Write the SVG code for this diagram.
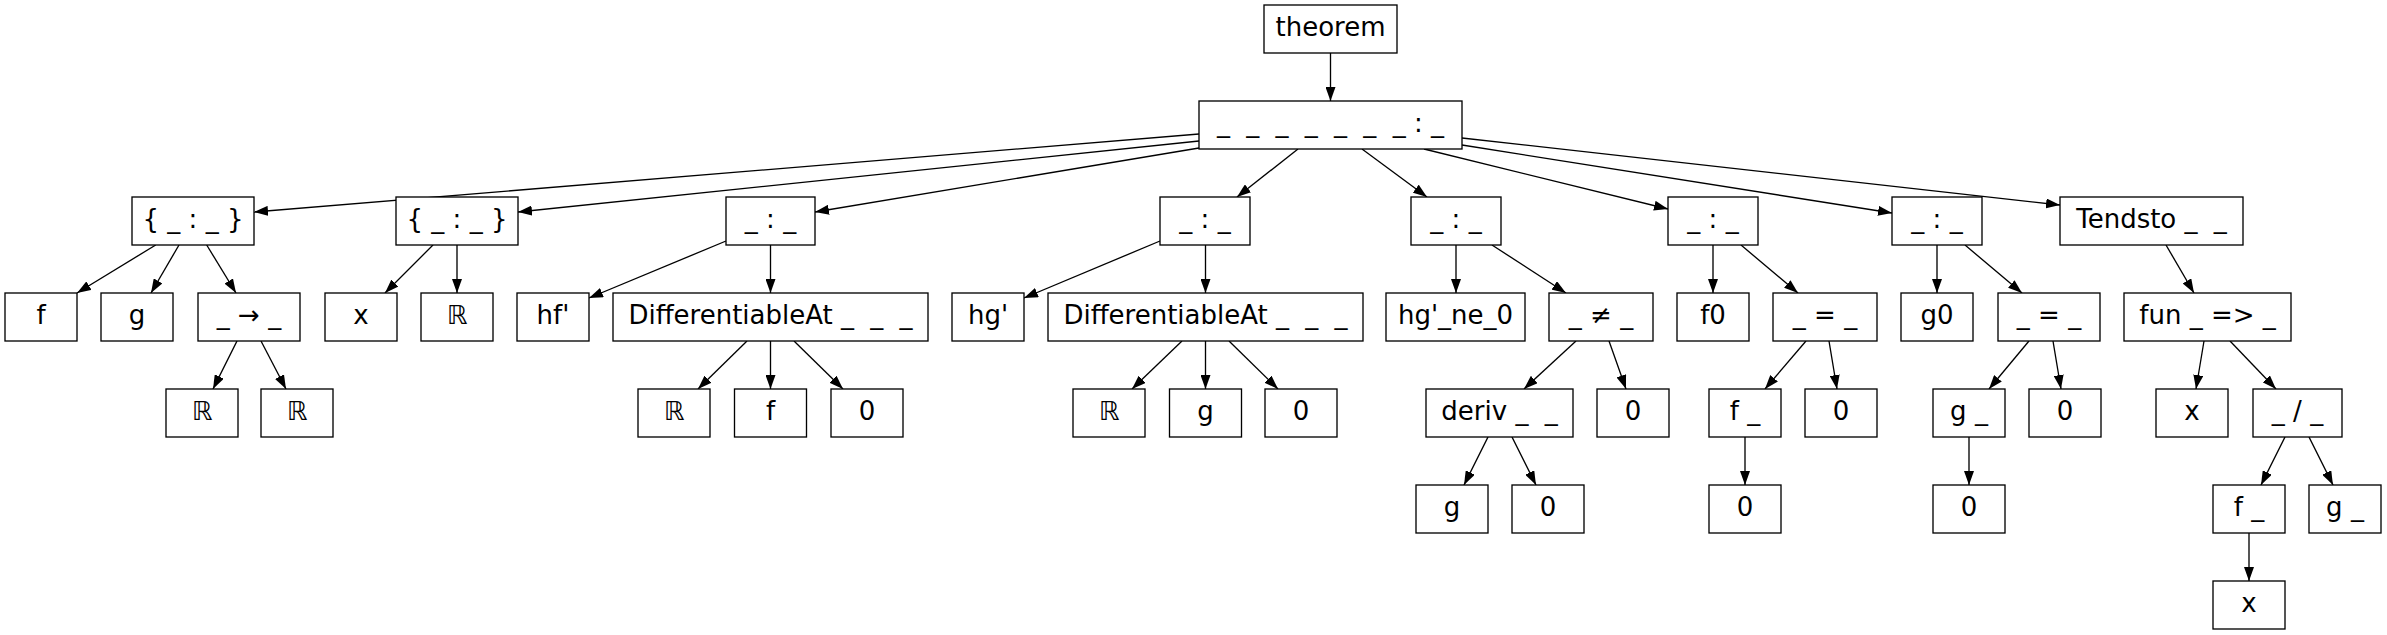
<svg xmlns="http://www.w3.org/2000/svg" width="2387" height="635" viewBox="0 0 2387 635">
<style>
rect{fill:#fff;stroke:#000;stroke-width:1.33}
text{font-family:"DejaVu Sans",sans-serif;font-size:26px;text-anchor:middle;fill:#000}
.R{font-family:"DejaVu Sans","DejaVu Serif","Noto Sans",sans-serif;font-variant-emoji:text}
.ws{word-spacing:8px}
#edges line{stroke:#000;stroke-width:1.33;marker-end:url(#ah)}
</style>
<defs>
<marker id="ah" markerWidth="14" markerHeight="10" refX="14" refY="5" orient="auto" markerUnits="userSpaceOnUse"><path d="M0,0L14,5L0,10z" fill="#000"/></marker>
</defs>
<rect x="0" y="0" width="2387" height="635" style="stroke:none"/>
<g id="edges">
<line x1="1330.5" y1="53" x2="1330.5" y2="101"/>
<line x1="1199" y1="134" x2="254" y2="212"/>
<line x1="1199" y1="141" x2="518" y2="212"/>
<line x1="1199" y1="148" x2="815" y2="212"/>
<line x1="1298" y1="149" x2="1237" y2="197"/>
<line x1="1362" y1="149" x2="1427" y2="197"/>
<line x1="1424" y1="149" x2="1668" y2="209"/>
<line x1="1462" y1="145" x2="1892" y2="213"/>
<line x1="1462" y1="138" x2="2060" y2="205"/>
<line x1="155.7" y1="245" x2="77" y2="293"/>
<line x1="179" y1="245" x2="151" y2="293"/>
<line x1="206.7" y1="245" x2="236" y2="293"/>
<line x1="433" y1="245" x2="385" y2="293"/>
<line x1="457" y1="245" x2="457" y2="293"/>
<line x1="726" y1="241" x2="589" y2="298"/>
<line x1="770.5" y1="245" x2="770.5" y2="293"/>
<line x1="1160" y1="241" x2="1024" y2="298"/>
<line x1="1205.5" y1="245" x2="1205.5" y2="293"/>
<line x1="1456" y1="245" x2="1456" y2="293"/>
<line x1="1492" y1="245" x2="1566" y2="293"/>
<line x1="1713" y1="245" x2="1713" y2="293"/>
<line x1="1741" y1="245" x2="1798" y2="293"/>
<line x1="1937" y1="245" x2="1937" y2="293"/>
<line x1="1965" y1="245" x2="2022" y2="293"/>
<line x1="2166" y1="245" x2="2194" y2="293"/>
<line x1="237" y1="341" x2="213" y2="389"/>
<line x1="261" y1="341" x2="286" y2="389"/>
<line x1="747" y1="341" x2="698" y2="389"/>
<line x1="770.5" y1="341" x2="770.5" y2="389"/>
<line x1="794" y1="341" x2="843" y2="389"/>
<line x1="1182" y1="341" x2="1132" y2="389"/>
<line x1="1205.5" y1="341" x2="1205.5" y2="389"/>
<line x1="1229" y1="341" x2="1278" y2="389"/>
<line x1="1576" y1="341" x2="1524" y2="389"/>
<line x1="1609" y1="341" x2="1626" y2="389"/>
<line x1="1806" y1="341" x2="1765" y2="389"/>
<line x1="1829" y1="341" x2="1837" y2="389"/>
<line x1="2029" y1="341" x2="1989" y2="389"/>
<line x1="2053" y1="341" x2="2061" y2="389"/>
<line x1="2204" y1="341" x2="2196" y2="389"/>
<line x1="2230" y1="341" x2="2276" y2="389"/>
<line x1="1488" y1="437" x2="1464" y2="485"/>
<line x1="1512" y1="437" x2="1536" y2="485"/>
<line x1="1745" y1="437" x2="1745" y2="485"/>
<line x1="1969" y1="437" x2="1969" y2="485"/>
<line x1="2285" y1="437" x2="2261" y2="485"/>
<line x1="2309" y1="437" x2="2333" y2="485"/>
<line x1="2249" y1="533" x2="2249" y2="581"/>
</g>
<g id="theorem"><rect x="1264" y="5" width="133" height="48"/><text x="1330.5" y="36">theorem</text></g>
<g id="root"><rect x="1199" y="101" width="263" height="48"/><text x="1330.5" y="132"><tspan class="ws">_ _ _ _ _ _ _</tspan> : _</text></g>
<g id="n1"><rect x="132" y="197" width="122" height="48"/><text x="193" y="228">{ _ : _ }</text></g>
<g id="n2"><rect x="396" y="197" width="122" height="48"/><text x="457" y="228">{ _ : _ }</text></g>
<g id="n3"><rect x="726" y="197" width="89" height="48"/><text x="770.5" y="228">_ : _</text></g>
<g id="n4"><rect x="1160" y="197" width="90" height="48"/><text x="1205" y="228">_ : _</text></g>
<g id="n5"><rect x="1411" y="197" width="90" height="48"/><text x="1456" y="228">_ : _</text></g>
<g id="n6"><rect x="1668" y="197" width="90" height="48"/><text x="1713" y="228">_ : _</text></g>
<g id="n7"><rect x="1892" y="197" width="90" height="48"/><text x="1937" y="228">_ : _</text></g>
<g id="tendsto"><rect x="2060" y="197" width="183" height="48"/><text x="2151.5" y="228">Tendsto <tspan class="ws">_ _</tspan></text></g>
<g id="f1"><rect x="5" y="293" width="72" height="48"/><text x="41" y="324">f</text></g>
<g id="g1"><rect x="101" y="293" width="72" height="48"/><text x="137" y="324">g</text></g>
<g id="arrow"><rect x="198" y="293" width="102" height="48"/><text x="249" y="324">_ → _</text></g>
<g id="x1"><rect x="325" y="293" width="72" height="48"/><text x="361" y="324">x</text></g>
<g id="R1"><rect x="421" y="293" width="72" height="48"/><text class="R" x="457" y="324">ℝ</text></g>
<g id="hf"><rect x="517" y="293" width="72" height="48"/><text x="553" y="324">hf'</text></g>
<g id="diff1"><rect x="613" y="293" width="315" height="48"/><text x="770.5" y="324">DifferentiableAt <tspan class="ws">_ _ _</tspan></text></g>
<g id="hg"><rect x="952" y="293" width="72" height="48"/><text x="988" y="324">hg'</text></g>
<g id="diff2"><rect x="1048" y="293" width="315" height="48"/><text x="1205.5" y="324">DifferentiableAt <tspan class="ws">_ _ _</tspan></text></g>
<g id="hgne0"><rect x="1386" y="293" width="139" height="48"/><text x="1455.5" y="324">hg'_ne_0</text></g>
<g id="ne"><rect x="1549" y="293" width="104" height="48"/><text x="1601" y="324">_ ≠ _</text></g>
<g id="f0"><rect x="1677" y="293" width="72" height="48"/><text x="1713" y="324">f0</text></g>
<g id="eq1"><rect x="1773" y="293" width="104" height="48"/><text x="1825" y="324">_ = _</text></g>
<g id="g0"><rect x="1901" y="293" width="72" height="48"/><text x="1937" y="324">g0</text></g>
<g id="eq2"><rect x="1998" y="293" width="102" height="48"/><text x="2049" y="324">_ = _</text></g>
<g id="fun"><rect x="2124" y="293" width="167" height="48"/><text x="2207.5" y="324">fun _ =&gt; _</text></g>
<g id="R2"><rect x="166" y="389" width="72" height="48"/><text class="R" x="202" y="420">ℝ</text></g>
<g id="R3"><rect x="261" y="389" width="72" height="48"/><text class="R" x="297" y="420">ℝ</text></g>
<g id="R4"><rect x="638" y="389" width="72" height="48"/><text class="R" x="674" y="420">ℝ</text></g>
<g id="f2"><rect x="734.5" y="389" width="72" height="48"/><text x="770.5" y="420">f</text></g>
<g id="z1"><rect x="831" y="389" width="72" height="48"/><text x="867" y="420">0</text></g>
<g id="R5"><rect x="1073" y="389" width="72" height="48"/><text class="R" x="1109" y="420">ℝ</text></g>
<g id="g2"><rect x="1169.5" y="389" width="72" height="48"/><text x="1205.5" y="420">g</text></g>
<g id="z2"><rect x="1265" y="389" width="72" height="48"/><text x="1301" y="420">0</text></g>
<g id="deriv"><rect x="1426" y="389" width="147" height="48"/><text x="1499.5" y="420">deriv <tspan class="ws">_ _</tspan></text></g>
<g id="z3"><rect x="1597" y="389" width="72" height="48"/><text x="1633" y="420">0</text></g>
<g id="fapp1"><rect x="1709" y="389" width="72" height="48"/><text x="1745" y="420">f _</text></g>
<g id="z4"><rect x="1805" y="389" width="72" height="48"/><text x="1841" y="420">0</text></g>
<g id="gapp1"><rect x="1933" y="389" width="72" height="48"/><text x="1969" y="420">g _</text></g>
<g id="z5"><rect x="2029" y="389" width="72" height="48"/><text x="2065" y="420">0</text></g>
<g id="x2"><rect x="2156" y="389" width="72" height="48"/><text x="2192" y="420">x</text></g>
<g id="div"><rect x="2253" y="389" width="89" height="48"/><text x="2297.5" y="420">_ / _</text></g>
<g id="g3"><rect x="1416" y="485" width="72" height="48"/><text x="1452" y="516">g</text></g>
<g id="z6"><rect x="1512" y="485" width="72" height="48"/><text x="1548" y="516">0</text></g>
<g id="z7"><rect x="1709" y="485" width="72" height="48"/><text x="1745" y="516">0</text></g>
<g id="z8"><rect x="1933" y="485" width="72" height="48"/><text x="1969" y="516">0</text></g>
<g id="fapp2"><rect x="2213" y="485" width="72" height="48"/><text x="2249" y="516">f _</text></g>
<g id="gapp2"><rect x="2309" y="485" width="72" height="48"/><text x="2345" y="516">g _</text></g>
<g id="x3"><rect x="2213" y="581" width="72" height="48"/><text x="2249" y="612">x</text></g>
</svg>
